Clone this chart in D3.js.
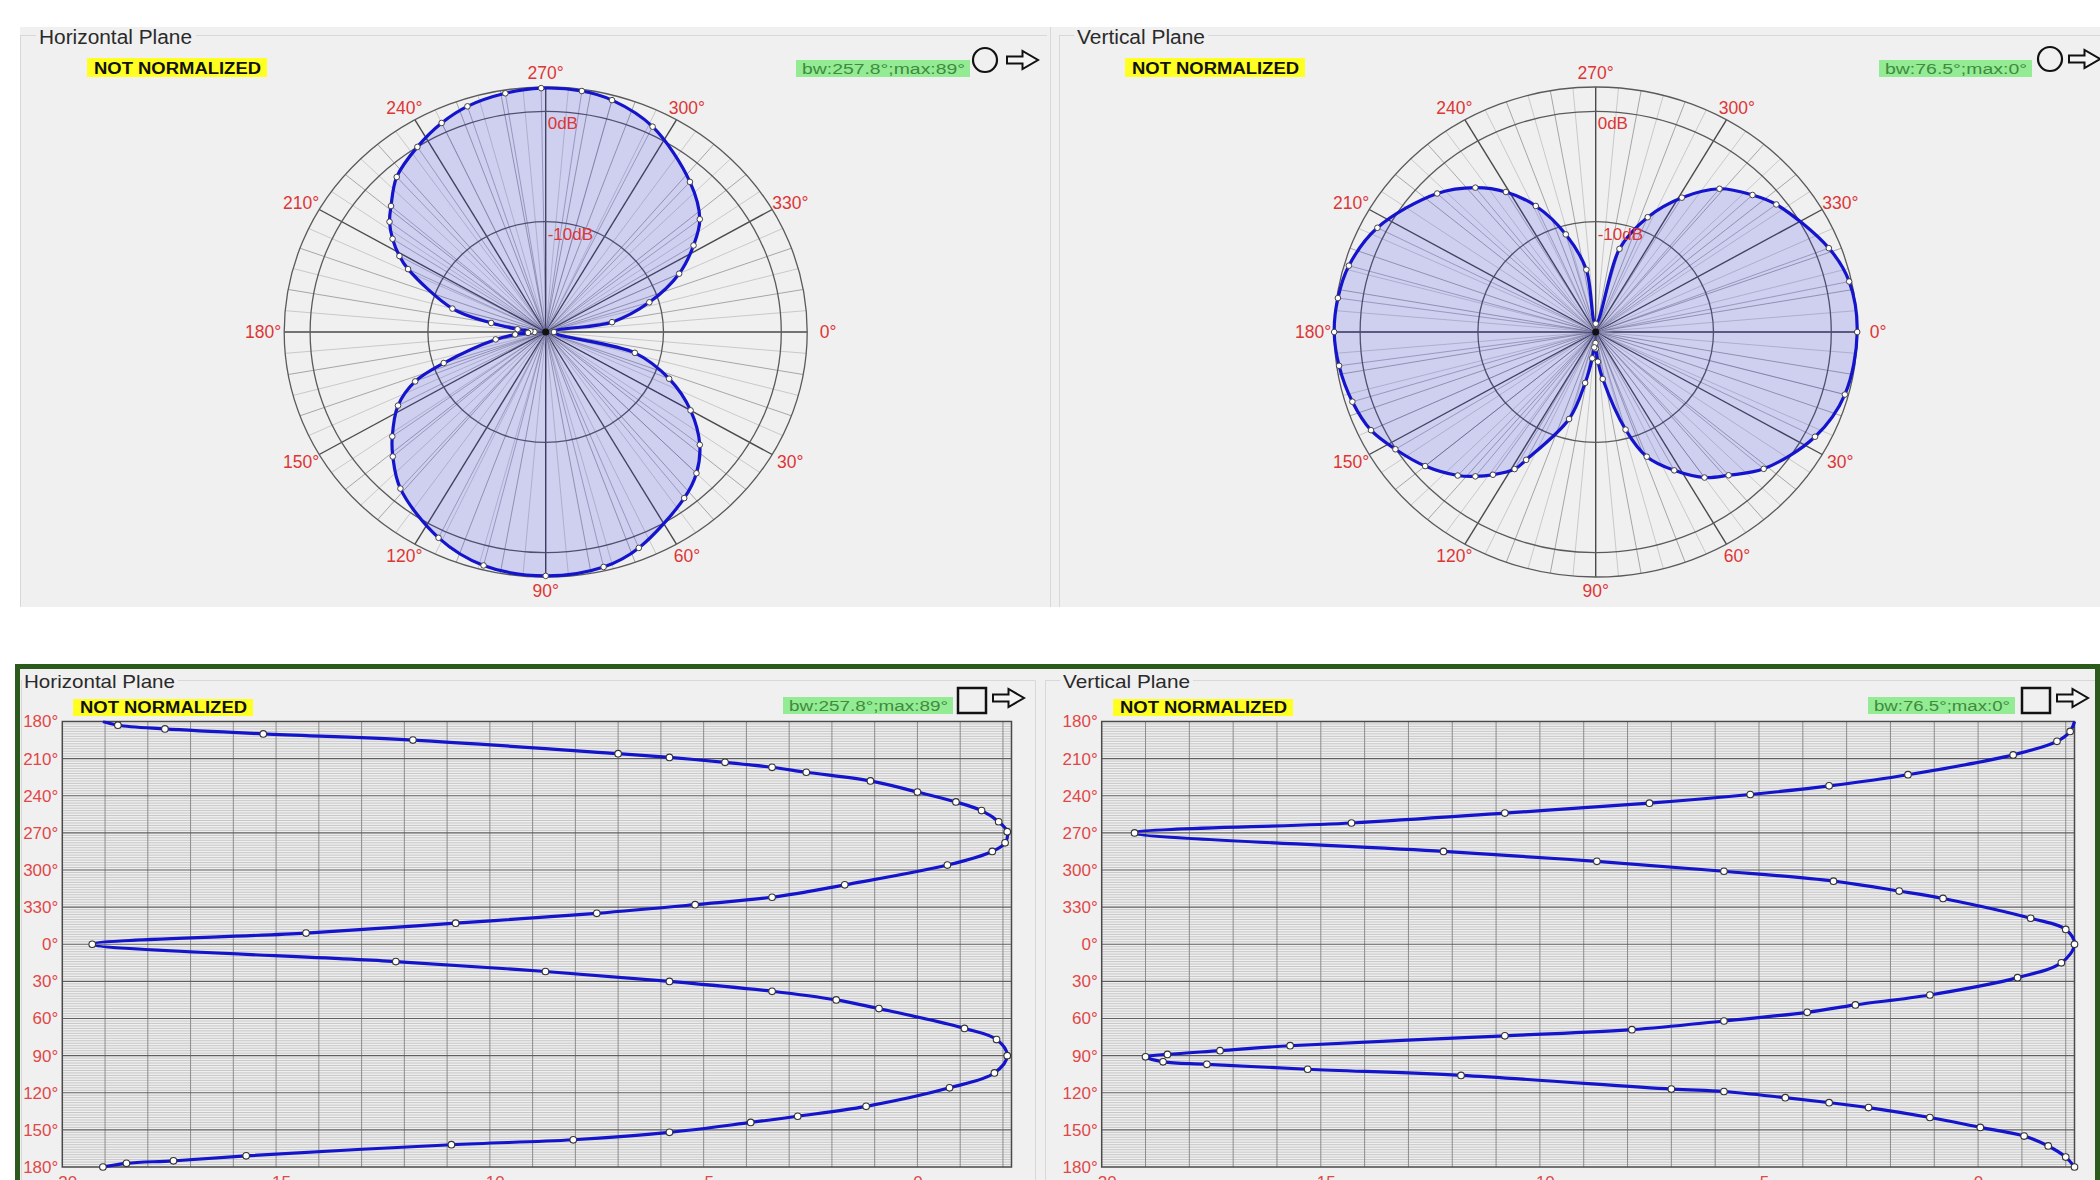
<!DOCTYPE html>
<html><head><meta charset="utf-8">
<script src="https://cdn.jsdelivr.net/npm/d3@7"></script>
<style>html,body{margin:0;padding:0;background:#fff;} svg{display:block;font-family:"Liberation Sans",Arial,sans-serif;}</style>
</head><body><svg id="c" width="2100" height="1180"></svg>
<script>
// ---------- DATA ----------
const hAngles = [180, 183, 186, 190, 195, 206, 209, 213, 217, 221, 228, 237, 245, 252, 261, 269, 278, 285, 296, 312, 322, 328, 335, 343, 351, 0, 14, 22, 30, 38, 45, 52, 68, 77, 90, 104, 116, 131, 139, 144, 152, 158, 162, 171, 175, 177, 180];
const hValues = [-19.05, -18.7, -17.6, -15.3, -11.8, -7.0, -5.8, -4.5, -3.4, -2.6, -1.1, 0.0, 0.9, 1.5, 1.9, 2.1, 2.05, 1.75, 0.7, -1.7, -3.4, -5.2, -7.5, -10.8, -14.3, -19.3, -12.2, -8.7, -5.8, -3.4, -1.9, -0.9, 1.1, 1.85, 2.1, 1.8, 0.75, -1.2, -2.8, -3.9, -5.8, -8.05, -10.9, -15.7, -17.4, -18.5, -19.05];
const vAngles = [180, 188, 196, 207, 223, 232, 239, 246, 254, 262, 270, 285, 293, 301, 309, 317, 323, 339, 348, 0, 15, 27, 41, 49, 55, 62, 69, 74, 82, 86, 89, 91, 95, 97, 101, 106, 117, 119, 124, 128, 132, 140, 148, 155, 163, 172, 180];
const vValues = [2.2, 2.1, 1.8, 0.8, -1.6, -3.4, -5.2, -7.5, -10.8, -14.3, -19.25, -12.2, -8.7, -5.8, -3.3, -1.8, -0.8, 1.2, 2.0, 2.2, 1.9, 0.9, -1.1, -2.8, -3.9, -5.8, -7.9, -10.8, -15.7, -17.3, -18.5, -19.0, -18.6, -17.6, -15.3, -11.8, -7.0, -5.8, -4.4, -3.4, -2.5, -1.1, 0.05, 1.05, 1.6, 2.0, 2.2];
const dbDomain = [-20, 2.2];
const ringDb = [-10, 0];
const ringLabels = ["-10dB", "0dB"];
const polarAngleTicks = [0, 30, 60, 90, 120, 150, 180, 210, 240, 270, 300, 330];
const yTickLabels = ["180°", "210°", "240°", "270°", "300°", "330°", "0°", "30°", "60°", "90°", "120°", "150°", "180°"];
const xTickValues = [-20, -15, -10, -5, 0];
const panelTitles = ["Horizontal Plane", "Vertical Plane"];
const badgeText = "NOT NORMALIZED";
const bwTexts = ["bw:257.8°;max:89°", "bw:76.5°;max:0°"];

// ---------- STYLE ----------
const RED = "#dd3636";
const BLUE = "#1414cc";
const svg = d3.select("#c");

const hData = hAngles.map((a, i) => ({a, db: hValues[i], i}));
const vData = vAngles.map((a, i) => ({a, db: vValues[i], i}));

// ---------- BACKGROUNDS / FRAMES ----------
svg.append("rect").attr("x", 0).attr("y", 0).attr("width", 2100).attr("height", 1180).attr("fill", "#fff");
svg.append("rect").attr("x", 20).attr("y", 27).attr("width", 2080).attr("height", 580).attr("fill", "#f0f0f0");
svg.append("line").attr("x1", 1050.5).attr("x2", 1050.5).attr("y1", 27).attr("y2", 607).attr("stroke", "#d8d8d8");
svg.append("line").attr("x1", 1059.5).attr("x2", 1059.5).attr("y1", 36).attr("y2", 607).attr("stroke", "#d8d8d8");
svg.append("line").attr("x1", 20.5).attr("x2", 20.5).attr("y1", 36).attr("y2", 607).attr("stroke", "#d8d8d8");
svg.append("path").attr("d", "M20,35.5H36M196,35.5H1047").attr("stroke", "#d8d8d8");
svg.append("path").attr("d", "M1059,35.5H1074M1208,35.5H2100").attr("stroke", "#d8d8d8");
svg.append("rect").attr("x", 20).attr("y", 669).attr("width", 2075).attr("height", 511).attr("fill", "#f0f0f0");
svg.append("rect").attr("x", 17.5).attr("y", 666.5).attr("width", 2080).attr("height", 600)
  .attr("fill", "none").attr("stroke", "#2c5a1c").attr("stroke-width", 5);
svg.append("path").attr("d", "M21.5,680V1180M178,680.5H1035.5V1180").attr("stroke", "#d8d8d8").attr("fill", "none");
svg.append("path").attr("d", "M1045.5,680V1180M1045,680.5H1060M1193,680.5H2095").attr("stroke", "#d8d8d8").attr("fill", "none");

// ---------- HEADER ELEMENTS ----------
function header(o) {
  svg.append("text").attr("x", o.tx).attr("y", o.ty).attr("font-size", o.tsize).attr("fill", "#2a2a2a")
    .attr("textLength", o.tlen).attr("lengthAdjust", "spacingAndGlyphs").text(o.title);
  svg.append("rect").attr("x", o.nx).attr("y", o.ny).attr("width", 180).attr("height", o.nh).attr("fill", "#ffff22");
  svg.append("text").attr("x", o.nx + 7).attr("y", o.ny + o.nh - 3.5).attr("font-size", 16).attr("font-weight", "bold")
    .attr("fill", "#111").attr("textLength", 167).attr("lengthAdjust", "spacingAndGlyphs").text(badgeText);
  svg.append("rect").attr("x", o.bx).attr("y", o.by).attr("width", o.bw).attr("height", 17).attr("fill", "#93ec93");
  svg.append("text").attr("x", o.bx + 6).attr("y", o.by + 13.5).attr("font-size", 14).attr("fill", "#3f8a3f")
    .attr("textLength", o.bw - 11).attr("lengthAdjust", "spacingAndGlyphs").text(o.bwText);
  if (o.shape === "circle") {
    svg.append("circle").attr("cx", o.sx).attr("cy", o.sy).attr("r", 12).attr("fill", "none").attr("stroke", "#111").attr("stroke-width", 2.2);
  } else {
    svg.append("rect").attr("x", o.sx - 14).attr("y", o.sy - 12.5).attr("width", 28).attr("height", 25)
      .attr("fill", "none").attr("stroke", "#111").attr("stroke-width", 2.5);
  }
  const x0 = o.ax, y0 = o.ay, w = 31, h = 18;
  const pts = [[x0, y0 + 0.3 * h], [x0 + 0.5 * w, y0 + 0.3 * h], [x0 + 0.5 * w, y0], [x0 + w, y0 + 0.5 * h],
               [x0 + 0.5 * w, y0 + h], [x0 + 0.5 * w, y0 + 0.7 * h], [x0, y0 + 0.7 * h]];
  svg.append("path").attr("d", d3.line()(pts) + "Z").attr("fill", "#f4f4f4").attr("stroke", "#111").attr("stroke-width", 2);
}
header({title: panelTitles[0], tx: 39, ty: 44, tsize: 20, tlen: 153, nx: 87, ny: 58, nh: 19,
  bx: 796, by: 60, bw: 174, bwText: bwTexts[0], shape: "circle", sx: 985, sy: 60, ax: 1007, ay: 51});
header({title: panelTitles[1], tx: 1077, ty: 44, tsize: 20, tlen: 128, nx: 1125, ny: 58, nh: 19,
  bx: 1879, by: 60, bw: 153, bwText: bwTexts[1], shape: "circle", sx: 2050, sy: 59, ax: 2069, ay: 50});
header({title: panelTitles[0], tx: 24, ty: 688, tsize: 19, tlen: 151, nx: 73, ny: 699, nh: 17,
  bx: 783, by: 697, bw: 170, bwText: bwTexts[0], shape: "square", sx: 972, sy: 700.5, ax: 993, ay: 689});
header({title: panelTitles[1], tx: 1063, ty: 688, tsize: 19, tlen: 127, nx: 1113, ny: 699, nh: 17,
  bx: 1868, by: 697, bw: 147, bwText: bwTexts[1], shape: "square", sx: 2036, sy: 700.5, ax: 2057, ay: 689});

// ---------- POLAR ----------
function polar(cx, cy, data) {
  const rx = 261.5, ry = 245;
  const r = d3.scaleLinear().domain(dbDomain).range([0, 1]).clamp(true);
  const pt = (a, db) => { const t = a * Math.PI / 180, k = r(db); return [cx + rx * k * Math.cos(t), cy + ry * k * Math.sin(t)]; };
  const g = svg.append("g");
  d3.range(0, 360, 5).forEach(a => {
    const p = pt(a, dbDomain[1]);
    const major = a % 30 === 0, mid = a % 10 === 0;
    g.append("line").attr("x1", cx).attr("y1", cy).attr("x2", p[0]).attr("y2", p[1])
      .attr("stroke", major ? "#4a4a4a" : (mid ? "#a6a6a6" : "#c9c9c9"))
      .attr("stroke-width", major ? 1.4 : 1);
  });
  ringDb.concat([dbDomain[1]]).forEach(db => {
    g.append("ellipse").attr("cx", cx).attr("cy", cy).attr("rx", rx * r(db)).attr("ry", ry * r(db))
      .attr("fill", "none").attr("stroke", "#5a5a5a").attr("stroke-width", 1.3);
  });
  const pts = data.slice(0, -1);
  const line = d3.line().x(d => pt(d.a, d.db)[0]).y(d => pt(d.a, d.db)[1]).curve(d3.curveCatmullRomClosed);
  g.append("path").attr("d", line(pts)).attr("fill", "rgb(20,20,235)").attr("fill-opacity", 0.15).attr("stroke", "none");
  pts.forEach(d => {
    const p = pt(d.a, d.db);
    g.append("line").attr("x1", cx).attr("y1", cy).attr("x2", p[0]).attr("y2", p[1])
      .attr("stroke", "#303070").attr("stroke-opacity", 0.35).attr("stroke-width", 1);
  });
  g.append("path").attr("d", line(pts)).attr("fill", "none").attr("stroke", BLUE).attr("stroke-width", 3.2);
  g.selectAll("circle.m").data(pts).join("circle").attr("class", "m")
    .attr("cx", d => pt(d.a, d.db)[0]).attr("cy", d => pt(d.a, d.db)[1]).attr("r", 2.8)
    .attr("fill", "#fff").attr("stroke", "#444").attr("stroke-width", 1);
  g.append("circle").attr("cx", cx).attr("cy", cy).attr("r", 3.5).attr("fill", "#111");
  ringDb.forEach((db, i) => {
    g.append("text").attr("x", cx + 2).attr("y", cy - ry * r(db) + 18).attr("font-size", 17).attr("fill", RED)
      .text(ringLabels[i]);
  });
  polarAngleTicks.forEach(a => {
    const t = a * Math.PI / 180;
    g.append("text").attr("x", cx + (rx + 21) * Math.cos(t)).attr("y", cy + (ry + 14) * Math.sin(t))
      .attr("text-anchor", "middle").attr("dominant-baseline", "central").attr("font-size", 17.5).attr("fill", RED)
      .text(a + "°");
  });
}
polar(545.7, 332, hData);
polar(1595.7, 332, vData);

// ---------- RECTANGULAR ----------
function rect(left, right, top, bottom, data) {
  const x = d3.scaleLinear().domain(dbDomain).range([left, right]);
  const y = d3.scaleLinear().domain([0, 360]).range([top, bottom]);
  const off = d => (d.a === 180 && d.i > 0) ? 360 : (d.a - 180 + 360) % 360;
  const g = svg.append("g");
  g.append("rect").attr("x", left).attr("y", top).attr("width", right - left).attr("height", bottom - top).attr("fill", "#efefef");
  d3.range(2, 360, 2).filter(v => v % 30 !== 0).forEach(v => {
    g.append("line").attr("x1", left).attr("x2", right).attr("y1", y(v)).attr("y2", y(v)).attr("stroke", "#c2c2c2").attr("stroke-width", 0.9);
  });
  d3.range(-19, 2.2, 1).forEach(v => {
    g.append("line").attr("x1", x(v)).attr("x2", x(v)).attr("y1", top).attr("y2", bottom).attr("stroke", "#8c8c8c").attr("stroke-width", 1);
  });
  d3.range(30, 360, 30).forEach(v => {
    g.append("line").attr("x1", left).attr("x2", right).attr("y1", y(v)).attr("y2", y(v)).attr("stroke", "#5e5e5e").attr("stroke-width", 1.2);
  });
  g.append("rect").attr("x", left).attr("y", top).attr("width", right - left).attr("height", bottom - top)
    .attr("fill", "none").attr("stroke", "#4a4a4a").attr("stroke-width", 1.5);
  const ya = g.append("g").attr("transform", `translate(${left},0)`)
    .call(d3.axisLeft(y).tickValues(d3.range(0, 361, 30)).tickSize(0).tickPadding(4).tickFormat((v, i) => yTickLabels[i]));
  ya.select(".domain").remove();
  ya.selectAll("text").attr("fill", "#e04848").attr("font-size", 17).attr("font-family", "Liberation Sans, Arial, sans-serif");
  const xa = g.append("g").attr("transform", `translate(0,${bottom})`)
    .call(d3.axisBottom(x).tickValues(xTickValues).tickSize(0).tickPadding(9).tickFormat(d3.format("d")));
  xa.select(".domain").remove();
  xa.selectAll("text").attr("fill", "#e04848").attr("font-size", 17).attr("font-family", "Liberation Sans, Arial, sans-serif");
  const line = d3.line().x(d => x(d.db)).y(d => y(off(d))).curve(d3.curveCatmullRom);
  const clip = "clip" + Math.round(left);
  svg.append("clipPath").attr("id", clip).append("rect").attr("x", left).attr("y", top - 1).attr("width", right - left + 8).attr("height", bottom - top + 2);
  g.append("path").attr("d", line(data)).attr("fill", "none").attr("stroke", BLUE).attr("stroke-width", 3.2).attr("clip-path", `url(#${clip})`);
  g.selectAll("circle.m").data(data.slice(1)).join("circle").attr("class", "m")
    .attr("cx", d => x(d.db)).attr("cy", d => y(off(d))).attr("r", 3.3)
    .attr("fill", "#fff").attr("stroke", "#333").attr("stroke-width", 1.1);
}
rect(62.3, 1011.5, 721.5, 1167, hData);
rect(1101.7, 2074.5, 721.5, 1167, vData);
</script></body></html>
